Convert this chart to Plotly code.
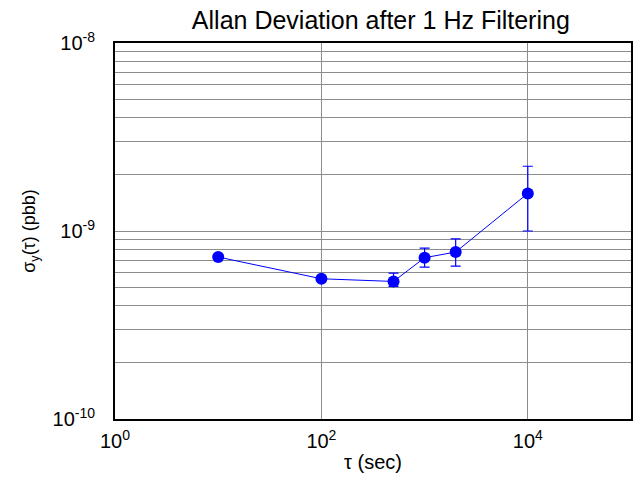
import plotly.graph_objects as go

tau = [10, 100, 500, 1000, 2000, 10000]
adev = [7.27e-10, 5.57e-10, 5.39e-10, 7.21e-10, 7.73e-10, 1.585e-9]
err_plus = [None, None, 0.58e-10, 0.90e-10, 1.34e-10, 0.625e-9]
err_minus = [None, None, 0.32e-10, 0.78e-10, 1.22e-10, 0.585e-9]

x_tickvals = [1, 100, 10000]
x_ticktext = ["10<sup>0</sup>", "10<sup>2</sup>", "10<sup>4</sup>"]

y_decades = [1e-10, 1e-9]
y_tickvals = [k * d for d in y_decades for k in range(1, 10)] + [1e-8]
y_major = {1e-10: "10<sup>-10</sup>", 1e-9: "10<sup>-9</sup>", 1e-8: "10<sup>-8</sup>"}
y_ticktext = [y_major.get(v, "") for v in y_tickvals]

FONT = "Liberation Sans, Arial, sans-serif"

fig = go.Figure()
fig.add_trace(go.Scatter(
    x=tau, y=adev,
    mode="lines+markers",
    line=dict(color="#0000ff", width=1),
    marker=dict(color="#0000ff", size=12, symbol="circle"),
    error_y=dict(type="data", symmetric=False, array=err_plus, arrayminus=err_minus,
                 color="#0000ff", thickness=1.2, width=5),
    showlegend=False,
))

fig.update_layout(
    width=639, height=481,
    margin=dict(l=115, r=6, t=43, b=62),
    paper_bgcolor="white", plot_bgcolor="white",
    font=dict(family=FONT, size=20, color="black"),
    title=dict(text="Allan Deviation after 1 Hz Filtering", x=0.596, xanchor="center",
               y=0.957, yanchor="middle", font=dict(size=25, family=FONT, color="black")),
)
fig.update_xaxes(
    type="log", range=[0, 5],
    tickvals=x_tickvals, ticktext=x_ticktext,
    showgrid=True, gridcolor="#8c8c8c", gridwidth=1,
    showline=True, linecolor="black", linewidth=2, mirror=True,
    ticks="", zeroline=False, ticklabelstandoff=3,
    title=dict(text="τ (sec)", font=dict(size=20, family=FONT), standoff=4),
    tickfont=dict(size=20, family=FONT),
)
fig.update_yaxes(
    type="log", range=[-10, -8],
    tickvals=y_tickvals, ticktext=y_ticktext,
    showgrid=True, gridcolor="#8c8c8c", gridwidth=1,
    showline=True, linecolor="black", linewidth=2, mirror=True,
    ticks="", zeroline=False, ticklabelstandoff=14,
    title=dict(text="σ<sub>y</sub>(τ) (pbb)", font=dict(size=18, family=FONT), standoff=12),
    tickfont=dict(size=20, family=FONT),
)

fig.write_html("out.html")
